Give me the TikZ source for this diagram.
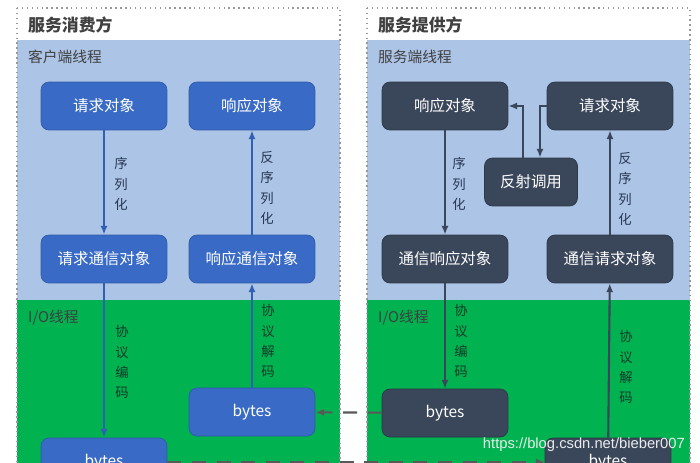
\documentclass[tikz,border=0pt]{standalone}
\usepackage{fontspec}
\setmainfont{Noto Sans CJK SC}
\newfontfamily\urlfont{Liberation Sans}
\usetikzlibrary{arrows.meta}
\definecolor{bgblue}{RGB}{172,196,230}
\definecolor{bggreen}{RGB}{0,178,80}
\definecolor{boxblue}{RGB}{56,106,198}
\definecolor{boxdark}{RGB}{58,70,90}
\definecolor{lbltext}{RGB}{40,55,85}
\definecolor{iotext}{RGB}{20,60,40}
\begin{document}
\begin{tikzpicture}[
    x=0.02cm, y=-0.02cm,
    obj/.style={
      rectangle,
      rounded corners=0.16cm,
      minimum width=2.52cm,
      minimum height=0.96cm,
      text=white,
      font=\fontsize{8.8}{10}\selectfont
    },
    cobj/.style={obj, fill=boxblue, draw=boxblue!85!black},
    sobj/.style={obj, fill=boxdark, draw=boxdark!80!black},
    lbl/.style={
      align=center,
      text=lbltext,
      font=\fontsize{7.6}{11.5}\selectfont
    },
    part/.style={
      anchor=west,
      text=black!75,
      font=\fontsize{8.4}{10}\selectfont
    },
    side/.style={
      anchor=west,
      text=black!75,
      font=\fontsize{9.6}{11}\selectfont\bfseries
    },
    larr/.style={-{Latex[length=5pt,width=4pt]}, line width=1.2pt, draw=boxblue!90!black},
    sarr/.style={-{Latex[length=5pt,width=4pt]}, line width=1.2pt, draw=boxdark},
    link/.style={-{Latex[length=5pt,width=4pt]}, line width=1.2pt, draw=black!65, dash pattern=on 8pt off 6pt}
  ]

  \clip (0,0) rectangle (700,463);
  \fill[white] (0,0) rectangle (700,463);

  \foreach \px in {17,367} {
    \fill[bgblue] (\px,40) rectangle ++(323,260);
    \fill[bggreen] (\px,300) rectangle ++(323,190);
    \draw[black!40, dotted, line width=0.8pt] (\px,8) rectangle ++(323,482);
  }

  \node[side] (cside) at (22,25) {服务消费方};
  \node[part] (cthread) at (22,57) {客户端线程};
  \node[part] (cio) at (22,318) {I/O线程};

  \node[side] (sside) at (372,25) {服务提供方};
  \node[part] (sthread) at (372,57) {服务端线程};
  \node[part] (sio) at (372,318) {I/O线程};

  \node[cobj] (req) at (104,106) {请求对象};
  \node[cobj] (resp) at (252,106) {响应对象};
  \node[cobj] (reqmsg) at (104,259) {请求通信对象};
  \node[cobj] (respmsg) at (252,259) {响应通信对象};
  \node[cobj] (bytesin) at (252,412) {bytes};
  \node[cobj] (bytesout) at (104,462) {bytes};

  \node[sobj] (sresp) at (445,106) {响应对象};
  \node[sobj] (sreq) at (610,106) {请求对象};
  \node[sobj, minimum width=1.86cm] (invoke) at (531,182) {反射调用};
  \node[sobj] (srespmsg) at (445,259) {通信响应对象};
  \node[sobj] (sreqmsg) at (610,259) {通信请求对象};
  \node[sobj] (sbytesout) at (445,413) {bytes};
  \node[sobj] (sbytesin) at (608,462) {bytes};

  \draw[larr] (req) -- (reqmsg);
  \draw[larr] (respmsg) -- (resp);
  \draw[larr] (reqmsg) -- (bytesout);
  \draw[larr] (bytesin) -- (respmsg);

  \draw[sarr] (sreq.west) -| ([xshift=0.18cm]invoke.north);
  \draw[sarr] ([xshift=-0.16cm]invoke.north) |- (sresp.east);
  \draw[sarr] (sresp) -- (srespmsg);
  \draw[sarr] (sreqmsg) -- (sreq);
  \draw[sarr] (srespmsg) -- (sbytesout);
  \draw[sarr] (sbytesin) -- (sreqmsg);

  \draw[link] (sbytesout) -- (bytesin);
  \draw[link] (bytesout) -- (sbytesin);

  \node[lbl] (ser) at (121,184) {序\\列\\化};
  \node[lbl] (deser) at (267,188) {反\\序\\列\\化};
  \node[lbl, text=iotext] (enc) at (122,362) {协\\议\\编\\码};
  \node[lbl, text=iotext] (dec) at (268,341) {协\\议\\解\\码};

  \node[lbl] (sser) at (459,184) {序\\列\\化};
  \node[lbl] (sdeser) at (625,189) {反\\序\\列\\化};
  \node[lbl, text=iotext] (senc) at (461,341) {协\\议\\编\\码};
  \node[lbl, text=iotext] (sdec) at (626,367) {协\\议\\解\\码};

  \node[anchor=east, text=white!92!black, font=\urlfont\fontsize{8.4}{10}\selectfont] (mark) at (691,445) {https://blog.csdn.net/bieber007};

\end{tikzpicture}
\end{document}
